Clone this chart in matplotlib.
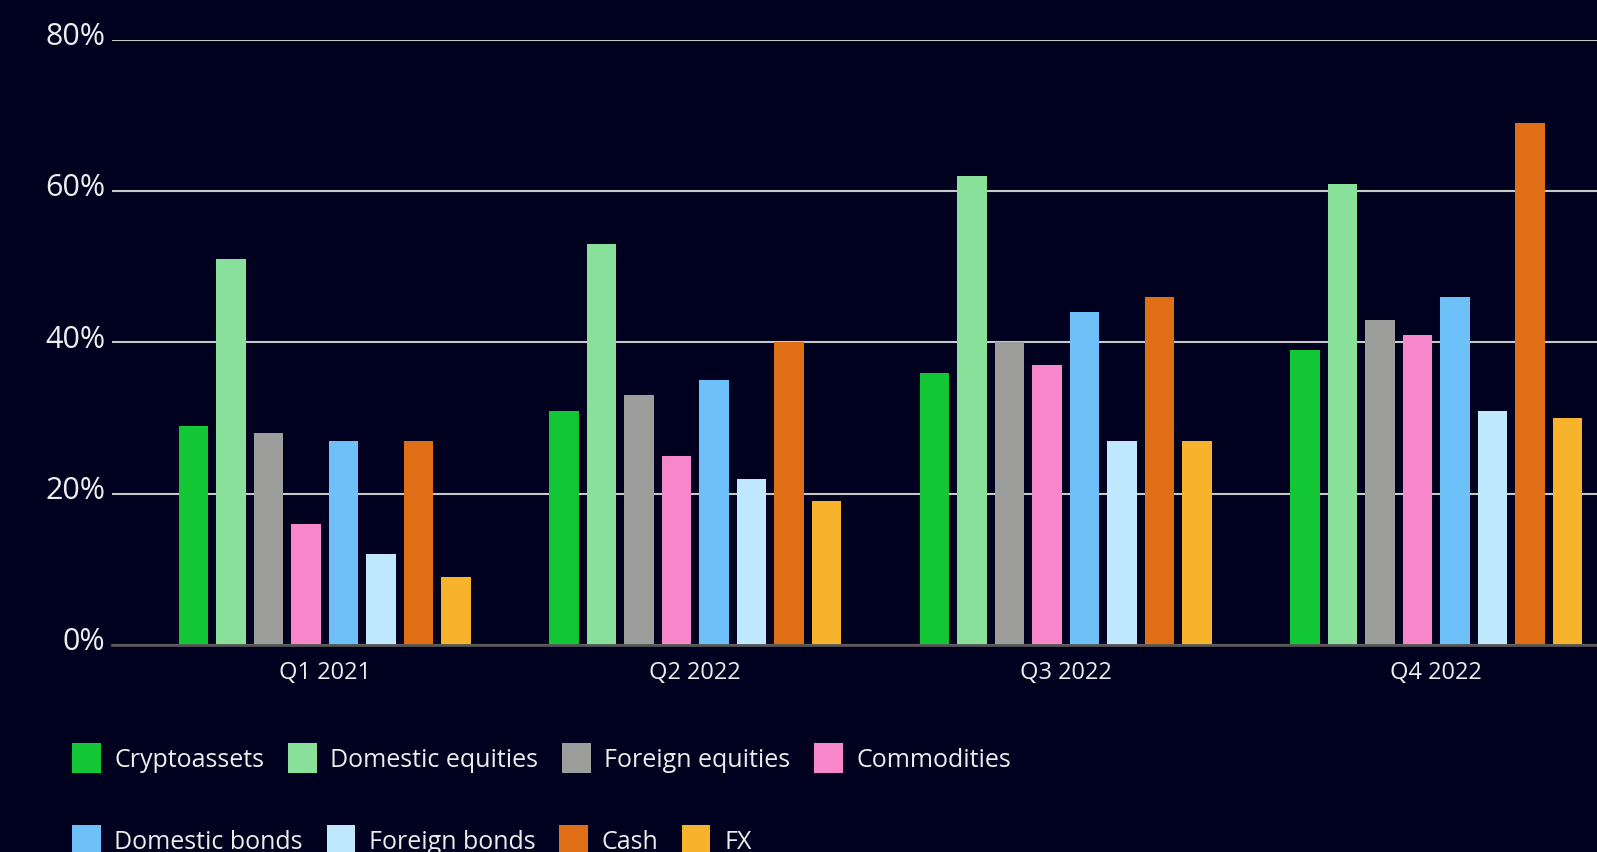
import matplotlib.pyplot as plt
import numpy as np
from matplotlib.patches import Patch
from matplotlib.transforms import ScaledTranslation

quarters = ["Q1 2021", "Q2 2022", "Q3 2022", "Q4 2022"]
series = ["Cryptoassets", "Domestic equities", "Foreign equities", "Commodities",
          "Domestic bonds", "Foreign bonds", "Cash", "FX"]
cryptoassets = [29, 31, 36, 39]
domestic_equities = [51, 53, 62, 61]
foreign_equities = [28, 33, 40, 43]
commodities = [16, 25, 37, 41]
domestic_bonds = [27, 35, 44, 46]
foreign_bonds = [12, 22, 27, 31]
cash = [27, 40, 46, 69]
fx = [9, 19, 27, 30]
y_ticks = [0, 20, 40, 60, 80]

values = [cryptoassets, domestic_equities, foreign_equities, commodities,
          domestic_bonds, foreign_bonds, cash, fx]
colors = ["#13C636", "#89E09A", "#9D9D9B", "#F786CA",
          "#6EC0F8", "#C0E8FC", "#E06E17", "#F7B32B"]

BG = "#00001F"
TEXT = "#EDEDED"

plt.rcParams['font.family'] = ['Open Sans', 'DejaVu Sans']

fig = plt.figure(figsize=(15.97, 8.53), dpi=100, facecolor=BG)
ax = fig.add_axes([0.0701, 0.2427, 0.93, 0.7093])
ax.set_facecolor(BG)

x = np.arange(len(quarters))
pitch = 0.1013
width = 0.0797
for i, (name, vals, col) in enumerate(zip(series, values, colors)):
    ax.bar(x + (i - 3.5) * pitch, vals, width=width, color=col, label=name, zorder=3)

ax.set_ylim(0, 80)
ax.set_xlim(-0.574, 3.434)
ax.set_yticks(y_ticks)
ax.set_yticklabels([f"{t}%" for t in y_ticks])
ax.set_xticks(x)
ax.set_xticklabels(quarters)
ax.tick_params(axis='y', length=0, pad=5, labelsize=22, labelcolor=TEXT)
ax.tick_params(axis='x', length=0, pad=11, labelsize=17, labelcolor=TEXT)
# labels sit on the gridline, nudged down a touch
shift = ScaledTranslation(0, -3 / 72, fig.dpi_scale_trans)
for t in ax.get_yticklabels():
    t.set_verticalalignment('baseline')
    t.set_transform(t.get_transform() + shift)

ax.yaxis.grid(True, color="#C8C8C8", linewidth=1.5, zorder=0)
for s in ["top", "right", "left"]:
    ax.spines[s].set_visible(False)
ax.spines["bottom"].set_color("#555555")
ax.spines["bottom"].set_linewidth(2)
ax.spines["bottom"].set_zorder(4)

# legend, laid out as two free-flowing rows
rows = [(0, 4, 0.110), (4, 8, 0.014)]
for start, stop, yc in rows:
    handles = [Patch(facecolor=colors[i], label=series[i]) for i in range(start, stop)]
    fig.legend(handles=handles, loc='center left', bbox_to_anchor=(0.031, yc),
               ncol=4, frameon=False, fontsize=18, labelcolor=TEXT,
               handlelength=1.14, handleheight=1.45, handletextpad=0.55,
               columnspacing=0.95)

fig.savefig("out.png", dpi=100, facecolor=BG)
